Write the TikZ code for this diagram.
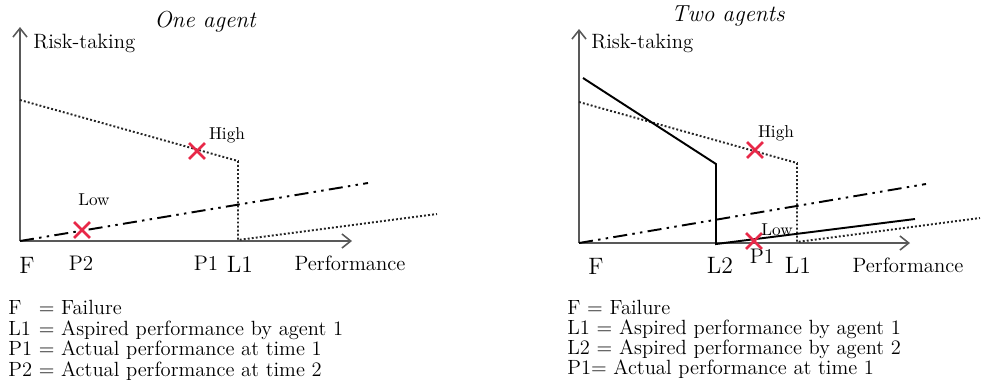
\documentclass[tikz,border=0pt]{standalone}
\usepackage{tikz}
\usetikzlibrary{arrows.meta,positioning,shapes.misc}
\definecolor{xred}{RGB}{232,40,72}

\begin{document}
\begin{tikzpicture}[
    x=0.02cm, y=-0.02cm,
    axis/.style={draw=black!65, line width=0.9pt, -{Straight Barb[length=5pt,width=8pt]}},
    dotline/.style={draw=black!85, line width=1.1pt, dash pattern=on 1.1pt off 1.2pt},
    dashdot/.style={draw=black, line width=1.1pt, dash pattern=on 8pt off 3pt on 1.4pt off 3pt on 1.4pt off 3pt},
    solidline/.style={draw=black, line width=1.1pt},
    xmark/.style={cross out, draw=xred, line width=1.5pt, minimum size=7.5pt, inner sep=0pt},
    title/.style={font=\fontsize{13.2}{15}\selectfont\itshape, inner sep=0pt},
    axlab/.style={font=\fontsize{11.8}{13}\selectfont, inner sep=0pt},
    biglab/.style={font=\fontsize{13.5}{15}\selectfont, inner sep=0pt},
    ptlab/.style={font=\fontsize{12}{13}\selectfont, inner sep=0pt},
    small/.style={font=\fontsize{9.8}{11}\selectfont, inner sep=0pt},
    legend/.style={font=\fontsize{11.7}{11.4}\selectfont, inner sep=0pt, anchor=north west, align=left}
]
\useasboundingbox (0,0) rectangle (981,383);

% 1. One agent
\coordinate (o1) at (20,241);
\coordinate (ytop1) at (20,27);
\coordinate (xend1) at (352,241);
\coordinate (hi1a) at (20,100);
\coordinate (hi1b) at (238,161);
\coordinate (hi1c) at (238,240);
\coordinate (hi1d) at (437,214);
\coordinate (dd1) at (368,183);

\draw[axis] (o1) -- (ytop1);
\draw[axis] (o1) -- (xend1);
\draw[dotline] (hi1a) -- (hi1b) -- (hi1c) -- (hi1d);
\draw[dashdot] (o1) -- (dd1);

\node[title] (title1) at (205,22) {One agent};
\node[axlab, anchor=west] (risk1) at (33,43) {Risk-taking};
\node[axlab] (perf1) at (350,263) {Performance};
\node[biglab] (f1) at (27,265) {F};
\node[ptlab] (p2a) at (81,263) {P2};
\node[ptlab] (p1a) at (206,263) {P1};
\node[biglab] (l1a) at (240,264) {L1};

\node[xmark] (xhigh1) at (197,151) {};
\node[xmark] (xlow1) at (82,230) {};
\node[small] (high1) at (227,135) {High};
\node[small] (low1) at (94,200) {Low};

% 2. Two agents
\coordinate (o2) at (579,243);
\coordinate (ytop2) at (579,29);
\coordinate (xend2) at (910,243);
\coordinate (ag2a) at (583,78);
\coordinate (ag2b) at (716,164);
\coordinate (ag2c) at (716,244);
\coordinate (ag2d) at (915,219);
\coordinate (hi2a) at (579,102);
\coordinate (hi2b) at (797,163);
\coordinate (hi2c) at (797,242);
\coordinate (hi2d) at (980,218);
\coordinate (dd2) at (926,184);

\draw[axis] (o2) -- (ytop2);
\draw[axis] (o2) -- (xend2);
\draw[dotline] (hi2a) -- (hi2b) -- (hi2c) -- (hi2d);
\draw[dashdot] (o2) -- (dd2);
\draw[solidline] (ag2a) -- (ag2b) -- (ag2c) -- (ag2d);

\node[title] (title2) at (728,16) {Two agents};
\node[axlab, anchor=west] (risk2) at (591,43) {Risk-taking};
\node[axlab] (perf2) at (908,265) {Performance};
\node[biglab] (f2) at (596,266) {F};
\node[biglab] (l2b) at (720,265) {L2};
\node[ptlab] (p1b) at (762,256) {P1};
\node[biglab] (l1b) at (798,265) {L1};

\node[xmark] (xhigh2) at (755,150) {};
\node[xmark] (xlow2) at (754,241) {};
\node[small] (high2) at (776,133) {High};
\node[small] (low2) at (777,230) {Low};

% 3. Legends
\node[legend] (legend1) at (8,300) {%
  \begin{tabular}{@{}l@{\ }l@{}}
  F & = Failure\\
  L1 & = Aspired performance by agent 1\\
  P1 & = Actual performance at time 1\\
  P2 & = Actual performance at time 2
  \end{tabular}};
\node[legend] (legend2) at (567,300) {F = Failure\\
  L1 = Aspired performance by agent 1\\
  L2 = Aspired performance by agent 2\\
  P1= Actual performance at time 1};

\end{tikzpicture}
\end{document}
